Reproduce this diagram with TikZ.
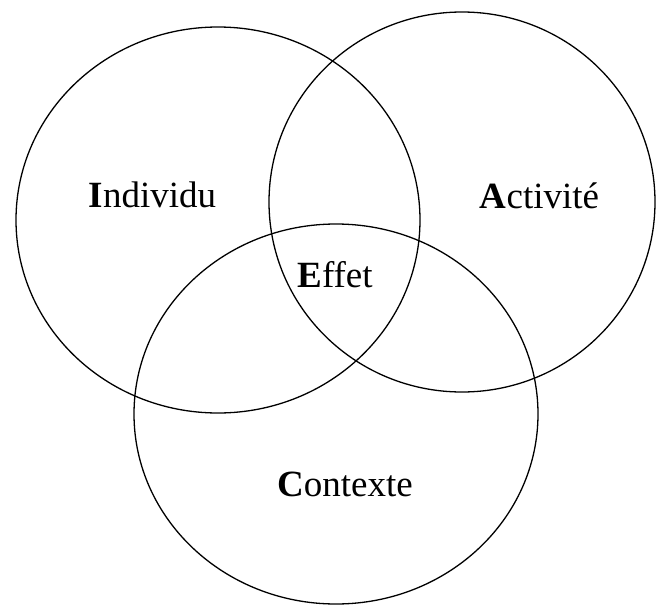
\documentclass[tikz,border=0pt]{standalone}
\usepackage{fontspec}
\setmainfont{Liberation Serif}
\begin{document}
\begin{tikzpicture}[x=1pt,y=-1pt,
  setring/.style={draw=black,line width=1.3pt},
  setlabel/.style={anchor=base,inner sep=0pt,font=\fontsize{37}{42}\selectfont}]
\useasboundingbox (0,0) rectangle (656,605);
% the three overlapping sets
\draw[setring] (218,220) ellipse [x radius=202, y radius=193];
\draw[setring] (462,202) ellipse [x radius=193, y radius=190];
\draw[setring] (336,414) ellipse [x radius=202, y radius=190];
% labels
\node[setlabel] (ind) at (152.5,207) {\textbf{I}ndividu};
\node[setlabel] (act) at (539.5,208) {\textbf{A}ctivité};
\node[setlabel] (eff) at (335,287) {\textbf{E}ffet};
\node[setlabel] (ctx) at (345,496) {\textbf{C}ontexte};
\end{tikzpicture}
\end{document}
